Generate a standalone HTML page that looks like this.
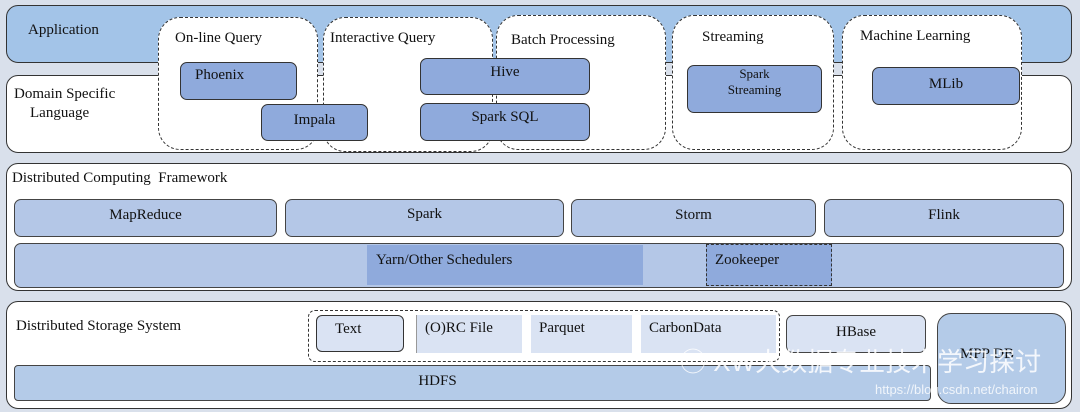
<!DOCTYPE html>
<html><head><meta charset="utf-8"><style>
body{margin:0;width:1080px;height:412px;background:#d9e0eb;position:relative;overflow:hidden;font-family:"Liberation Serif",serif;color:#111;}
div{position:absolute;box-sizing:border-box;}
.l{border:1.5px solid #333;border-radius:12px;background:#fff;}
.b{border:1.5px solid #333;border-radius:7px;background:#8faadc;font-size:15px;text-align:center;}
.c{border:1.5px solid #444;border-radius:7px;background:#b4c7e7;font-size:15px;text-align:center;}
.d{border:1.5px dashed #333;border-radius:22px;background:#fff;}
.t{font-size:15px;white-space:nowrap;}
.f{background:#dae3f3;font-size:15px;}
</style></head><body>
<div class="l" style="left:6px;top:5px;width:1066px;height:58px;background:#a3c4e8;"></div>
<div class="t" style="left:28px;top:22px;">Application</div>
<div class="l" style="left:6px;top:75px;width:1066px;height:78px;"></div>
<div class="t" style="left:14px;top:86px;">Domain Specific</div>
<div class="t" style="left:30px;top:105px;">Language</div>

<div class="d" style="left:158px;top:17px;width:160px;height:133px;"></div>
<div class="d" style="left:323px;top:17px;width:170px;height:135px;"></div>
<div class="d" style="left:496px;top:15px;width:170px;height:135px;"></div>
<div class="d" style="left:672px;top:15px;width:162px;height:135px;"></div>
<div class="d" style="left:842px;top:15px;width:180px;height:135px;"></div>
<div class="t" style="left:175px;top:30px;">On-line Query</div>
<div class="t" style="left:330px;top:30px;">Interactive Query</div>
<div class="t" style="left:511px;top:32px;">Batch Processing</div>
<div class="t" style="left:702px;top:29px;">Streaming</div>
<div class="t" style="left:860px;top:28px;">Machine Learning</div>
<div class="b" style="left:180px;top:62px;width:117px;height:38px;text-align:left;padding:4px 0 0 14px;">Phoenix</div>
<div class="b" style="left:261px;top:104px;width:107px;height:37px;line-height:30px;">Impala</div>
<div class="b" style="left:420px;top:58px;width:170px;height:37px;line-height:26px;">Hive</div>
<div class="b" style="left:420px;top:103px;width:170px;height:38px;line-height:26px;">Spark SQL</div>
<div class="b" style="left:687px;top:65px;width:135px;height:48px;font-size:13px;line-height:16px;padding-top:0;">Spark<br>Streaming</div>
<div class="b" style="left:872px;top:67px;width:148px;height:38px;line-height:32px;">MLib</div>

<div class="l" style="left:6px;top:163px;width:1066px;height:128px;"></div>
<div class="t" style="left:12px;top:170px;">Distributed Computing&nbsp; Framework</div>
<div class="c" style="left:14px;top:199px;width:263px;height:38px;line-height:30px;">MapReduce</div>
<div class="c" style="left:285px;top:199px;width:279px;height:38px;line-height:28px;">Spark</div>
<div class="c" style="left:571px;top:199px;width:245px;height:38px;line-height:30px;">Storm</div>
<div class="c" style="left:824px;top:199px;width:240px;height:38px;line-height:30px;">Flink</div>
<div class="c" style="left:14px;top:243px;width:1050px;height:45px;"></div>
<div class="t" style="left:367px;top:245px;width:276px;height:40px;background:#8faadc;padding:7px 0 0 9px;">Yarn/Other Schedulers</div>
<div class="t" style="left:706px;top:244px;width:126px;height:42px;background:#8faadc;border:1.5px dashed #333;padding:7px 0 0 8px;">Zookeeper</div>

<div class="l" style="left:6px;top:301px;width:1066px;height:108px;"></div>
<div class="t" style="left:16px;top:318px;">Distributed Storage System</div>
<div class="c" style="left:14px;top:365px;width:917px;height:36px;border-radius:4px;background:#b4cbe8;line-height:30px;padding-right:70px;">HDFS</div>
<div class="c" style="left:937px;top:313px;width:129px;height:91px;border-radius:14px;background:#b4cbe8;"></div>
<div class="t" style="left:960px;top:346px;">MPP DB</div>
<div class="t" style="left:308px;top:310px;width:472px;height:52px;border:1.5px dashed #333;border-radius:7px;background:#fff;"></div>
<div class="t" style="left:316px;top:315px;width:88px;height:37px;border:1.5px solid #333;border-radius:6px;background:#dae3f3;padding:5px 0 0 18px;">Text</div>
<div class="t f" style="left:416px;top:315px;width:106px;height:38px;padding:5px 0 0 8px;border-left:1px solid #999;">(O)RC File</div>
<div class="t f" style="left:531px;top:315px;width:101px;height:38px;padding:5px 0 0 8px;">Parquet</div>
<div class="t f" style="left:641px;top:315px;width:135px;height:38px;padding:5px 0 0 8px;">CarbonData</div>
<div class="c" style="left:786px;top:315px;width:140px;height:38px;background:#dae3f3;line-height:32px;">HBase</div>
<div class="t" style="left:680px;top:342px;font-family:'Liberation Sans','Noto Sans CJK SC',sans-serif;font-size:26px;color:rgba(255,255,255,0.85);">◯ XW大数据专业技术学习探讨</div>
<div class="t" style="left:875px;top:382px;font-family:'Liberation Sans',sans-serif;font-size:13px;color:rgba(255,255,255,0.8);">https://blog.csdn.net/chairon</div>
</body></html>
